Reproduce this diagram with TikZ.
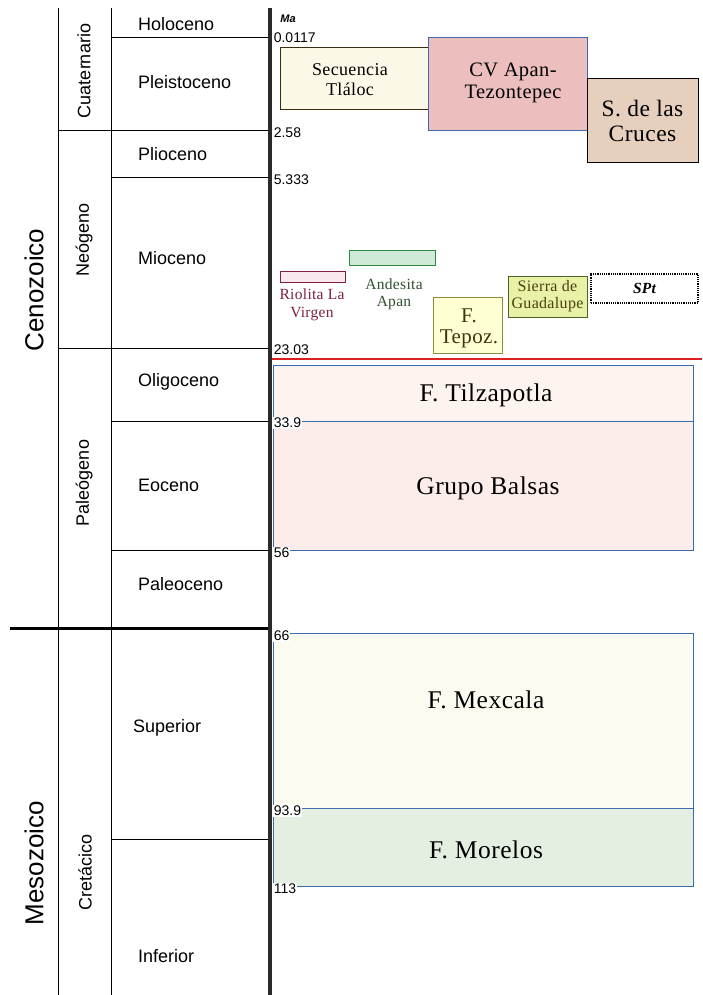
\documentclass[tikz,border=0pt]{standalone}
\usepackage{fontspec}
\setmainfont{Liberation Serif}[LetterSpace=2]
\setsansfont{Liberation Sans}
\definecolor{axisgray}{HTML}{2A2A2A}
\definecolor{edgeblue}{HTML}{3C6BB0}
\definecolor{secfill}{HTML}{FCF8E8}
\definecolor{secedge}{HTML}{3D2B10}
\definecolor{cvfill}{HTML}{ECBEBE}
\definecolor{sdcfill}{HTML}{E6CFBC}
\definecolor{riofill}{HTML}{F9E9EE}
\definecolor{rioedge}{HTML}{7F2040}
\definecolor{andfill}{HTML}{CFEBD7}
\definecolor{andedge}{HTML}{2E8B3E}
\definecolor{andtext}{HTML}{2F4F2F}
\definecolor{tepfill}{HTML}{FFFFD3}
\definecolor{tepedge}{HTML}{8C8C3C}
\definecolor{teptext}{HTML}{3F3510}
\definecolor{sgfill}{HTML}{E8F1A6}
\definecolor{sgedge}{HTML}{4F6228}
\definecolor{sgtext}{HTML}{4A4010}
\definecolor{tilfill}{HTML}{FDF4F0}
\definecolor{balfill}{HTML}{FCEDEA}
\definecolor{mexfill}{HTML}{FBFCEF}
\definecolor{morfill}{HTML}{E4EFE2}
\definecolor{redline}{HTML}{E02020}
\begin{document}
\begin{tikzpicture}[x=1pt,y=-1pt,
  gridline/.style={line width=1pt,black},
  thickline/.style={line width=3pt,black},
  epoch/.style={font=\fontsize{18}{20}\selectfont\sffamily,anchor=west,inner sep=0pt},
  era/.style={font=\fontsize{26}{28}\selectfont\sffamily,rotate=90,inner sep=0pt},
  period/.style={font=\fontsize{18}{20}\selectfont\sffamily,rotate=90,inner sep=0pt},
  age/.style={font=\fontsize{14}{15}\selectfont\sffamily,anchor=west,inner sep=0.6pt,fill=white},
  unitbox/.style={draw,line width=1pt,inner sep=0pt,align=center},
  bigtext/.style={inner sep=0pt,font=\fontsize{25.5}{27}\selectfont},
]
\useasboundingbox (0,0) rectangle (702,995);
\fill[white] (0,0) rectangle (702,995);

% left grid
\draw[gridline] (58,8) -- (58,995);
\draw[gridline] (111,8) -- (111,995);
\draw[gridline] (111,38) -- (270,38);
\draw[gridline] (58,131) -- (270,131);
\draw[gridline] (111,178) -- (270,178);
\draw[gridline] (58,348) -- (270,348);
\draw[gridline] (111,421) -- (270,421);
\draw[gridline] (111,550) -- (270,550);
\draw[gridline] (111,839) -- (270,839);
\draw[thickline] (10,628) -- (270,628);

% eras
\node[era] (ceno) at (34,290) {Cenozoico};
\node[era] (meso) at (34,863) {Mesozoico};
% periods
\node[period] (cuat) at (84,71) {Cuaternario};
\node[period] (neog) at (84,240) {Neógeno};
\node[period] (paleog) at (84,483) {Paleógeno};
\node[period] (cret) at (85,872) {Cretácico};
% epochs
\node[epoch] (holo) at (138,24) {Holoceno};
\node[epoch] (pleis) at (138,82) {Pleistoceno};
\node[epoch] (plio) at (138,154) {Plioceno};
\node[epoch] (mio) at (138,258) {Mioceno};
\node[epoch] (oligo) at (138,382) {Oligoceno};
\node[epoch] (eoc) at (138,485) {Eoceno};
\node[epoch] (paleoc) at (138,584) {Paleoceno};
\node[epoch] (sup) at (133,728) {Superior};
\node[epoch] (inf) at (138,956) {Inferior};

% lower units
\node[unitbox,draw=edgeblue,fill=tilfill,minimum width=420pt,minimum height=56pt] (tilz) at (483,393) {};
\node[bigtext] (tilzT) at (486,395) {F. Tilzapotla};
\node[unitbox,draw=edgeblue,fill=balfill,minimum width=420pt,minimum height=129pt] (bal) at (483,485.5) {};
\node[bigtext] (balT) at (488,488) {Grupo Balsas};
\node[unitbox,draw=edgeblue,fill=mexfill,minimum width=420pt,minimum height=175pt] (mex) at (483,720.5) {};
\node[bigtext] (mexT) at (486,700) {F. Mexcala};
\node[unitbox,draw=edgeblue,fill=morfill,minimum width=420pt,minimum height=78pt] (mor) at (483,847) {};
\node[bigtext] (morT) at (486,850) {F. Morelos};

% red line
\draw[redline,line width=1.8pt] (272,359) -- (702,359);

% upper units
\node[unitbox,draw=secedge,fill=secfill,minimum width=149pt,minimum height=62pt] (sec) at (354.5,79) {};
\node[inner sep=0pt,align=center,font=\fontsize{18}{20}\selectfont] (secT) at (350,80) {Secuencia\\Tláloc};
\node[unitbox,draw=edgeblue,fill=cvfill,minimum width=159pt,minimum height=93pt] (cv) at (507.5,84.5) {};
\node[inner sep=0pt,align=center,font=\fontsize{20.5}{22}\selectfont] (cvT) at (513,83) {CV Apan-\\Tezontepec};
\node[unitbox,draw=black,fill=sdcfill,minimum width=111pt,minimum height=84pt,font=\fontsize{23.5}{25}\selectfont] (sdc) at (642.5,121) {S. de las\\Cruces};

\node[unitbox,draw=rioedge,fill=riofill,minimum width=65pt,minimum height=11pt] (rio) at (312.5,276.5) {};
\node[inner sep=0pt,align=center,text=rioedge,font=\fontsize{15.5}{18}\selectfont] (rioT) at (312,305) {Riolita La\\Virgen};
\node[unitbox,draw=andedge,fill=andfill,minimum width=86pt,minimum height=15pt] (and) at (392,257.5) {};
\node[inner sep=0pt,align=center,text=andtext,font=\fontsize{15.5}{17}\selectfont] (andT) at (394,294) {Andesita\\Apan};
\node[unitbox,draw=tepedge,fill=tepfill,minimum width=69pt,minimum height=56pt] (tep) at (467.5,325) {};
\node[inner sep=0pt,align=center,text=teptext,font=\fontsize{21}{21}\selectfont] (tepT) at (469,328) {F.\\Tepoz.};
\node[unitbox,draw=sgedge,fill=sgfill,minimum width=79pt,minimum height=41pt,text=sgtext,font=\fontsize{16}{17}\selectfont] (sg) at (547.5,296.5) {Sierra de\\Guadalupe};
\node[unitbox,draw=black,fill=white,line width=2.5pt,dash pattern=on 1.2pt off 1pt,minimum width=107pt,minimum height=29pt,font=\fontsize{15.5}{17}\selectfont\bfseries\itshape] (spt) at (644.5,288.5) {SPt};

% axis
\draw[axisgray,line width=3.5pt] (270,8) -- (270,995);

% ages
\node[inner sep=0pt,font=\fontsize{11}{12}\selectfont\sffamily\itshape\bfseries] (ma) at (288,19) {Ma};
\node[age,fill=none] (a1) at (273,38) {0.0117};
\node[age,fill=none] (a2) at (273,133) {2.58};
\node[age,fill=none] (a3) at (273,180) {5.333};
\node[age,fill=none] (a4) at (273,350) {23.03};
\node[age] (a5) at (273,423) {33.9};
\node[age] (a6) at (273,553) {56};
\node[age] (a7) at (273,636) {66};
\node[age] (a8) at (273,811) {93.9};
\node[age] (a9) at (273,889) {113};
\end{tikzpicture}
\end{document}
